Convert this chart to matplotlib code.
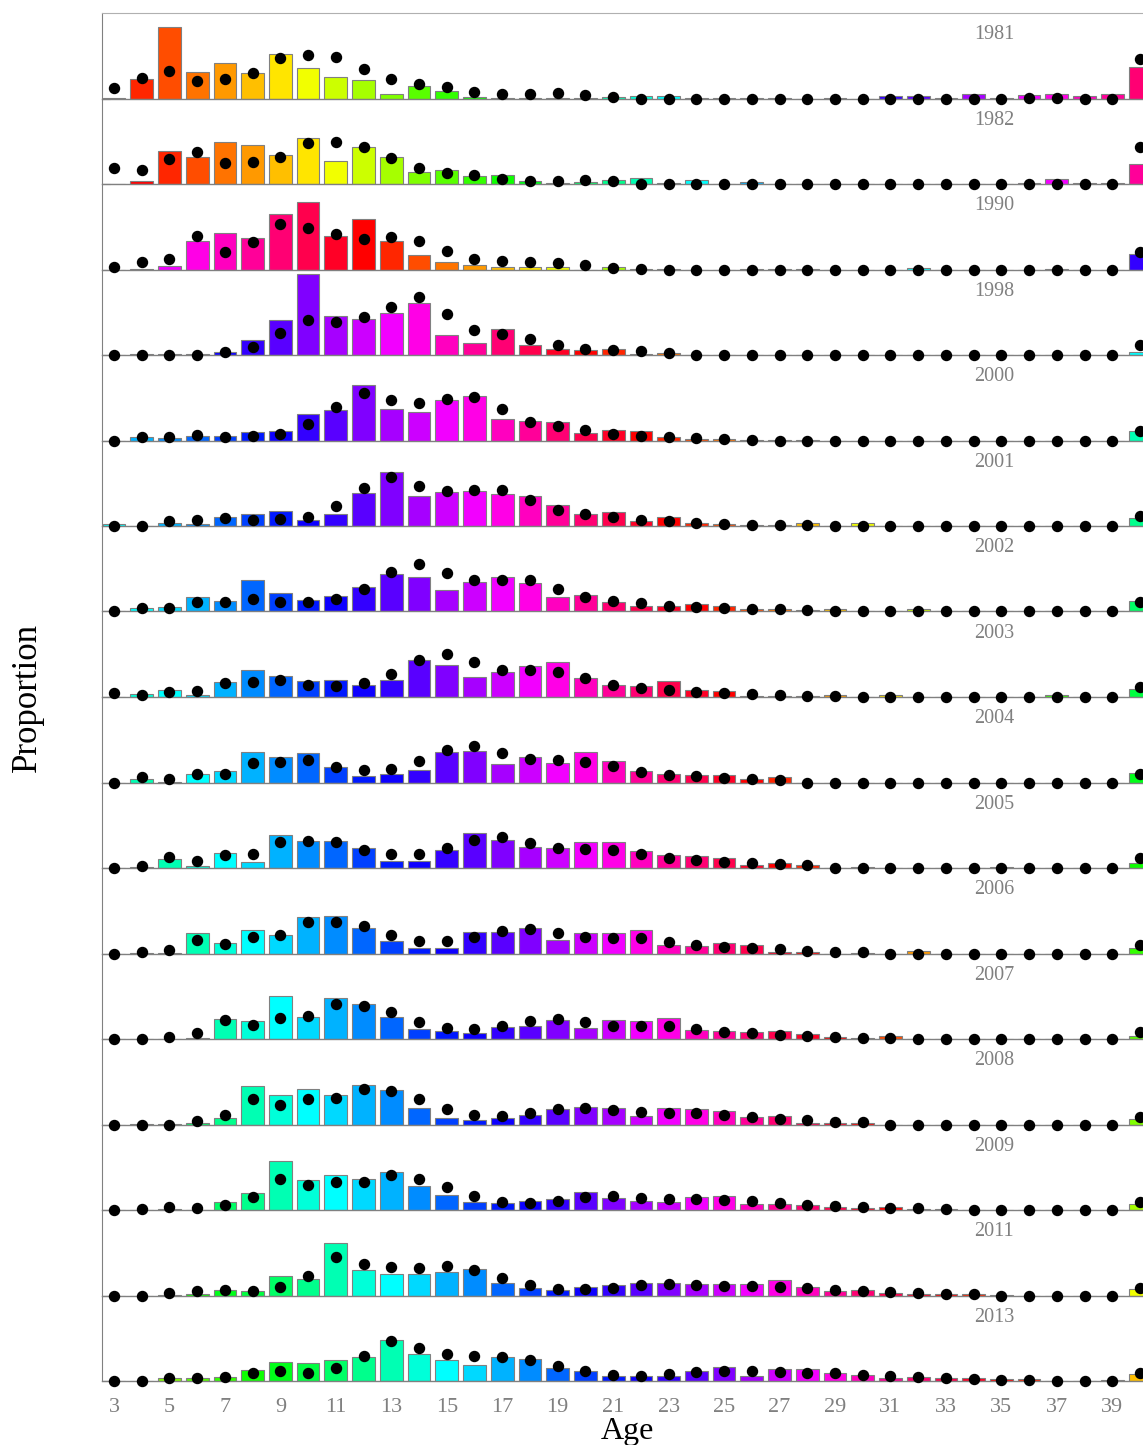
import colorsys

import matplotlib
matplotlib.use("Agg")
import matplotlib.pyplot as plt

plt.rcParams["font.family"] = ["Liberation Serif", "DejaVu Serif"]

# ------------------------------------------------------------
# data: observed proportion-at-age (bars) and fitted values (dots)
# ages 3..40 (40 = plus group); each list: ages 3-22, then 23-40
# ------------------------------------------------------------
ages = list(range(3, 41))
years = [1981, 1982, 1990, 1998, 2000, 2001, 2002, 2003,
         2004, 2005, 2006, 2007, 2008, 2009, 2011, 2013]

obs_1981 = [0.002, 0.059, 0.216, 0.081, 0.106, 0.076, 0.134, 0.092, 0.064, 0.055,
            0.015, 0.039, 0.022, 0.006, 0.001, 0.003, 0.002, 0.002, 0.006, 0.009,
            0.009, 0.003, 0.002, 0.002, 0.002, 0.0, 0.002, 0.0, 0.007,
            0.007, 0.002, 0.013, 0.002, 0.011, 0.013, 0.007, 0.015, 0.095]
fit_1981 = [0.032, 0.062, 0.082, 0.053, 0.058, 0.076, 0.122, 0.132, 0.126, 0.089,
            0.058, 0.045, 0.035, 0.021, 0.013, 0.015, 0.017, 0.012, 0.004, 0.0,
            0.0, 0.0, 0.0, 0.0, 0.0, 0.0, 0.0, 0.0, 0.0,
            0.0, 0.0, 0.0, 0.0, 0.002, 0.002, 0.0, 0.0, 0.118]

obs_1982 = [0.0, 0.008, 0.099, 0.080, 0.126, 0.116, 0.088, 0.139, 0.068, 0.111,
            0.082, 0.036, 0.043, 0.024, 0.028, 0.009, 0.002, 0.005, 0.013, 0.017,
            0.003, 0.012, 0.0, 0.005, 0.001, 0.001, 0.001, 0.001, 0.001,
            0.001, 0.001, 0.001, 0.001, 0.002, 0.015, 0.002, 0.002, 0.059]
fit_1982 = [0.048, 0.041, 0.075, 0.096, 0.064, 0.066, 0.082, 0.122, 0.126, 0.112,
            0.078, 0.047, 0.034, 0.026, 0.015, 0.009, 0.010, 0.011, 0.008, 0.001,
            0.0, 0.0, 0.0, 0.0, 0.0, 0.0, 0.0, 0.0, 0.0,
            0.0, 0.0, 0.0, 0.0, 0.0, 0.0, 0.0, 0.0, 0.110]

obs_1990 = [0.0, 0.003, 0.010, 0.086, 0.109, 0.096, 0.167, 0.204, 0.100, 0.152,
            0.086, 0.044, 0.023, 0.014, 0.008, 0.007, 0.007, 0.0, 0.007, 0.003,
            0.002, 0.0, 0.0, 0.002, 0.002, 0.002, 0.0, 0.0, 0.0,
            0.004, 0.0, 0.0, 0.0, 0.0, 0.003, 0.0, 0.0, 0.046]
fit_1990 = [0.008, 0.022, 0.031, 0.100, 0.054, 0.082, 0.136, 0.125, 0.108, 0.093,
            0.097, 0.086, 0.055, 0.032, 0.025, 0.022, 0.019, 0.013, 0.006, 0.003,
            0.0, 0.0, 0.0, 0.0, 0.0, 0.0, 0.0, 0.0, 0.0,
            0.0, 0.0, 0.0, 0.0, 0.0, 0.0, 0.0, 0.0, 0.052]

obs_1998 = [0.0, 0.002, 0.002, 0.002, 0.008, 0.046, 0.106, 0.243, 0.118, 0.109,
            0.125, 0.156, 0.061, 0.035, 0.077, 0.031, 0.017, 0.015, 0.018, 0.004,
            0.007, 0.0, 0.0, 0.0, 0.0, 0.0, 0.0, 0.0, 0.0,
            0.0, 0.0, 0.0, 0.0, 0.0, 0.0, 0.0, 0.0, 0.009]
fit_1998 = [0.0, 0.0, 0.0, 0.0, 0.009, 0.025, 0.066, 0.106, 0.098, 0.114,
            0.143, 0.175, 0.123, 0.074, 0.063, 0.048, 0.029, 0.018, 0.014, 0.011,
            0.006, 0.0, 0.0, 0.0, 0.0, 0.0, 0.0, 0.0, 0.0,
            0.0, 0.0, 0.0, 0.0, 0.0, 0.0, 0.0, 0.0, 0.030]

obs_2000 = [0.0, 0.011, 0.009, 0.014, 0.014, 0.027, 0.030, 0.080, 0.093, 0.167,
            0.094, 0.087, 0.123, 0.135, 0.065, 0.059, 0.055, 0.024, 0.033, 0.029,
            0.010, 0.006, 0.005, 0.002, 0.002, 0.003, 0.0, 0.0, 0.0,
            0.0, 0.0, 0.0, 0.0, 0.0, 0.0, 0.0, 0.0, 0.028]
fit_2000 = [0.0, 0.011, 0.011, 0.017, 0.011, 0.015, 0.021, 0.049, 0.102, 0.142,
            0.122, 0.114, 0.125, 0.132, 0.094, 0.056, 0.043, 0.032, 0.020, 0.014,
            0.011, 0.008, 0.005, 0.002, 0.0, 0.0, 0.0, 0.0, 0.0,
            0.0, 0.0, 0.0, 0.0, 0.0, 0.0, 0.0, 0.0, 0.028]

obs_2001 = [0.006, 0.001, 0.009, 0.006, 0.028, 0.036, 0.046, 0.019, 0.037, 0.099,
            0.162, 0.090, 0.101, 0.104, 0.095, 0.091, 0.063, 0.035, 0.043, 0.015,
            0.026, 0.010, 0.006, 0.002, 0.002, 0.008, 0.0, 0.008, 0.0,
            0.0, 0.0, 0.0, 0.0, 0.0, 0.0, 0.0, 0.0, 0.024]
fit_2001 = [0.0, 0.0, 0.016, 0.017, 0.024, 0.019, 0.021, 0.028, 0.059, 0.114,
            0.146, 0.121, 0.105, 0.109, 0.109, 0.079, 0.047, 0.035, 0.026, 0.018,
            0.014, 0.010, 0.007, 0.002, 0.002, 0.003, 0.0, 0.0, 0.0,
            0.0, 0.0, 0.0, 0.0, 0.0, 0.0, 0.0, 0.0, 0.030]

obs_2002 = [0.0, 0.009, 0.012, 0.042, 0.030, 0.093, 0.055, 0.034, 0.046, 0.073,
            0.111, 0.103, 0.065, 0.088, 0.103, 0.085, 0.043, 0.050, 0.027, 0.015,
            0.017, 0.021, 0.015, 0.006, 0.007, 0.004, 0.007, 0.0, 0.002,
            0.007, 0.001, 0.001, 0.001, 0.001, 0.001, 0.001, 0.001, 0.030]
fit_2002 = [0.0, 0.010, 0.010, 0.028, 0.028, 0.038, 0.027, 0.027, 0.036, 0.067,
            0.118, 0.143, 0.116, 0.095, 0.095, 0.093, 0.068, 0.042, 0.031, 0.024,
            0.017, 0.013, 0.011, 0.007, 0.006, 0.004, 0.002, 0.0, 0.0,
            0.0, 0.0, 0.0, 0.0, 0.0, 0.0, 0.0, 0.0, 0.029]

obs_2003 = [0.0, 0.010, 0.020, 0.005, 0.044, 0.081, 0.064, 0.048, 0.051, 0.036,
            0.050, 0.112, 0.096, 0.059, 0.074, 0.093, 0.104, 0.058, 0.036, 0.033,
            0.048, 0.020, 0.017, 0.003, 0.002, 0.002, 0.006, 0.0, 0.005,
            0.0, 0.0, 0.0, 0.0, 0.0, 0.006, 0.0, 0.0, 0.023]
fit_2003 = [0.011, 0.007, 0.016, 0.017, 0.042, 0.045, 0.052, 0.037, 0.033, 0.041,
            0.070, 0.112, 0.130, 0.105, 0.082, 0.080, 0.076, 0.057, 0.037, 0.027,
            0.022, 0.016, 0.013, 0.009, 0.006, 0.004, 0.003, 0.0, 0.0,
            0.0, 0.0, 0.0, 0.0, 0.0, 0.0, 0.0, 0.0, 0.029]

obs_2004 = [0.0, 0.011, 0.002, 0.025, 0.034, 0.093, 0.078, 0.088, 0.047, 0.019,
            0.027, 0.037, 0.093, 0.094, 0.055, 0.078, 0.059, 0.091, 0.064, 0.034,
            0.025, 0.024, 0.023, 0.012, 0.018, 0.0, 0.0, 0.0, 0.0,
            0.0, 0.0, 0.0, 0.0, 0.0, 0.0, 0.0, 0.0, 0.030]
fit_2004 = [0.0, 0.018, 0.011, 0.025, 0.027, 0.060, 0.063, 0.067, 0.047, 0.037,
            0.042, 0.064, 0.099, 0.110, 0.089, 0.072, 0.067, 0.063, 0.049, 0.032,
            0.024, 0.019, 0.014, 0.010, 0.008, 0.0, 0.0, 0.0, 0.0,
            0.0, 0.0, 0.0, 0.0, 0.0, 0.0, 0.0, 0.0, 0.027]

obs_2005 = [0.0, 0.004, 0.026, 0.007, 0.046, 0.017, 0.100, 0.080, 0.080, 0.061,
            0.020, 0.021, 0.054, 0.106, 0.084, 0.064, 0.061, 0.078, 0.078, 0.051,
            0.038, 0.037, 0.031, 0.009, 0.016, 0.010, 0.0, 0.002, 0.0,
            0.0, 0.0, 0.0, 0.003, 0.0, 0.0, 0.0, 0.0, 0.015]
fit_2005 = [0.0, 0.007, 0.032, 0.020, 0.038, 0.042, 0.079, 0.080, 0.079, 0.053,
            0.041, 0.042, 0.060, 0.085, 0.093, 0.076, 0.060, 0.057, 0.055, 0.043,
            0.031, 0.025, 0.019, 0.016, 0.012, 0.009, 0.0, 0.0, 0.0,
            0.0, 0.0, 0.0, 0.0, 0.0, 0.0, 0.0, 0.0, 0.029]

obs_2006 = [0.0, 0.001, 0.003, 0.062, 0.032, 0.070, 0.055, 0.111, 0.113, 0.077,
            0.038, 0.017, 0.016, 0.066, 0.064, 0.078, 0.042, 0.063, 0.063, 0.071,
            0.026, 0.022, 0.031, 0.025, 0.005, 0.004, 0.0, 0.003, 0.0,
            0.007, 0.0, 0.0, 0.0, 0.0, 0.0, 0.0, 0.0, 0.018]
fit_2006 = [0.0, 0.006, 0.012, 0.042, 0.029, 0.051, 0.056, 0.094, 0.094, 0.083,
            0.055, 0.038, 0.037, 0.050, 0.069, 0.075, 0.062, 0.050, 0.047, 0.046,
            0.036, 0.026, 0.019, 0.016, 0.013, 0.009, 0.006, 0.004, 0.0,
            0.0, 0.0, 0.0, 0.0, 0.0, 0.0, 0.0, 0.0, 0.026]

obs_2007 = [0.0, 0.0, 0.0, 0.002, 0.060, 0.054, 0.129, 0.067, 0.123, 0.106,
            0.066, 0.029, 0.025, 0.017, 0.035, 0.038, 0.057, 0.033, 0.056, 0.053,
            0.062, 0.026, 0.023, 0.020, 0.023, 0.016, 0.005, 0.004, 0.008,
            0.0, 0.0, 0.0, 0.0, 0.0, 0.0, 0.0, 0.0, 0.010]
fit_2007 = [0.0, 0.0, 0.006, 0.017, 0.057, 0.042, 0.062, 0.069, 0.104, 0.098,
            0.082, 0.051, 0.032, 0.030, 0.040, 0.055, 0.059, 0.051, 0.040, 0.039,
            0.038, 0.031, 0.021, 0.017, 0.013, 0.010, 0.006, 0.004, 0.003,
            0.0, 0.0, 0.0, 0.0, 0.0, 0.0, 0.0, 0.0, 0.021]

obs_2008 = [0.0, 0.001, 0.001, 0.004, 0.021, 0.116, 0.090, 0.106, 0.090, 0.120,
            0.105, 0.051, 0.021, 0.013, 0.020, 0.028, 0.047, 0.054, 0.049, 0.026,
            0.049, 0.048, 0.041, 0.023, 0.025, 0.006, 0.004, 0.005, 0.0,
            0.0, 0.0, 0.0, 0.0, 0.0, 0.0, 0.0, 0.0, 0.017]
fit_2008 = [0.0, 0.0, 0.0, 0.010, 0.029, 0.077, 0.060, 0.076, 0.080, 0.107,
            0.100, 0.077, 0.048, 0.029, 0.026, 0.036, 0.046, 0.050, 0.044, 0.037,
            0.036, 0.035, 0.029, 0.022, 0.017, 0.013, 0.009, 0.007, 0.0,
            0.0, 0.0, 0.0, 0.0, 0.0, 0.0, 0.0, 0.0, 0.024]

obs_2009 = [0.0, 0.001, 0.002, 0.001, 0.023, 0.051, 0.147, 0.090, 0.104, 0.092,
            0.115, 0.073, 0.046, 0.025, 0.020, 0.027, 0.032, 0.054, 0.037, 0.028,
            0.025, 0.039, 0.042, 0.019, 0.017, 0.015, 0.009, 0.007, 0.008,
            0.002, 0.003, 0.0, 0.0, 0.0, 0.0, 0.0, 0.0, 0.017]
fit_2009 = [0.0, 0.004, 0.008, 0.006, 0.014, 0.039, 0.093, 0.076, 0.083, 0.085,
            0.105, 0.094, 0.069, 0.042, 0.025, 0.022, 0.028, 0.040, 0.042, 0.037,
            0.033, 0.033, 0.031, 0.026, 0.020, 0.015, 0.011, 0.009, 0.006,
            0.005, 0.002, 0.0, 0.0, 0.0, 0.0, 0.0, 0.0, 0.024]

obs_2011 = [0.0, 0.0, 0.003, 0.006, 0.016, 0.014, 0.060, 0.049, 0.158, 0.077,
            0.065, 0.066, 0.070, 0.080, 0.037, 0.023, 0.017, 0.026, 0.031, 0.039,
            0.037, 0.036, 0.034, 0.035, 0.046, 0.026, 0.013, 0.018, 0.008,
            0.005, 0.004, 0.004, 0.002, 0.0, 0.0, 0.0, 0.0, 0.021]
fit_2011 = [0.0, 0.0, 0.008, 0.013, 0.018, 0.014, 0.027, 0.060, 0.115, 0.094,
            0.087, 0.084, 0.088, 0.077, 0.054, 0.033, 0.020, 0.020, 0.023, 0.031,
            0.035, 0.032, 0.030, 0.029, 0.027, 0.022, 0.018, 0.013, 0.010,
            0.007, 0.005, 0.004, 0.0, 0.0, 0.0, 0.0, 0.0, 0.024]

obs_2013 = [0.0, 0.0, 0.010, 0.008, 0.013, 0.034, 0.058, 0.053, 0.062, 0.071,
            0.122, 0.082, 0.064, 0.049, 0.071, 0.066, 0.039, 0.030, 0.014, 0.014,
            0.016, 0.029, 0.041, 0.016, 0.035, 0.035, 0.025, 0.019, 0.008,
            0.013, 0.009, 0.009, 0.005, 0.007, 0.0, 0.0, 0.002, 0.022]
fit_2013 = [0.0, 0.0, 0.008, 0.008, 0.012, 0.025, 0.030, 0.025, 0.038, 0.074,
            0.119, 0.100, 0.082, 0.075, 0.073, 0.064, 0.045, 0.029, 0.017, 0.016,
            0.022, 0.027, 0.031, 0.029, 0.027, 0.025, 0.023, 0.019, 0.015,
            0.011, 0.008, 0.006, 0.004, 0.003, 0.0, 0.0, 0.0, 0.024]

observed = [obs_1981, obs_1982, obs_1990, obs_1998, obs_2000, obs_2001, obs_2002, obs_2003,
            obs_2004, obs_2005, obs_2006, obs_2007, obs_2008, obs_2009, obs_2011, obs_2013]
fitted = [fit_1981, fit_1982, fit_1990, fit_1998, fit_2000, fit_2001, fit_2002, fit_2003,
          fit_2004, fit_2005, fit_2006, fit_2007, fit_2008, fit_2009, fit_2011, fit_2013]


def cohort_colour(cohort):
    """Rainbow colour cycling every 40 year-classes (1978 = red)."""
    hue = ((1978 - cohort) % 40) / 40.0
    return colorsys.hsv_to_rgb(hue, 1.0, 1.0)


# ------------------------------------------------------------
# layout (pixels of a 1143 x 1445 canvas)
# ------------------------------------------------------------
W, H = 1143, 1445
LEFT, RIGHT, TOP = 102, 1143, 13
PANEL_H = 85.5
GREY = "#808080"

fig = plt.figure(figsize=(W / 100, H / 100), dpi=100)

for i, (year, obs, fit) in enumerate(zip(years, observed, fitted)):
    top = TOP + i * PANEL_H
    ax = fig.add_axes([LEFT / W, 1 - (top + PANEL_H) / H,
                       (RIGHT - LEFT) / W, PANEL_H / H])
    ax.patch.set_visible(False)

    colours = [cohort_colour(year - a) for a in ages]
    ax.bar(ages, obs, width=0.82, color=colours, edgecolor=GREY,
           linewidth=0.8, zorder=2)
    ax.plot(ages, fit, "o", color="black", markersize=7.2,
            clip_on=False, zorder=4)

    ax.set_xlim(2.567, 40.108)
    ax.set_ylim(0, 0.2565)

    for side in ("top", "right"):
        ax.spines[side].set_visible(False)
    ax.spines["left"].set_color(GREY)
    ax.spines["bottom"].set_color(GREY)
    ax.spines["bottom"].set_linewidth(1.0)
    if i == 0:
        ax.spines["top"].set_visible(True)
        ax.spines["top"].set_color("#b0b0b0")

    ax.set_yticks([0])
    ax.set_yticklabels([])
    ax.tick_params(axis="y", direction="in", length=6, color=GREY)

    ax.set_xticks(range(3, 40, 2))
    ax.tick_params(axis="x", length=0, pad=12, labelsize=16, labelcolor=GREY)
    if i < len(years) - 1:
        ax.set_xticklabels([])

    ax.text(34.75, 0.743, str(year), transform=ax.get_xaxis_transform(),
            ha="center", va="center", fontsize=14.5, color=GREY)

fig.text(627 / W, 1 - 1432 / H, "Age", ha="center", va="center", fontsize=23)
fig.text(27 / W, 1 - 697 / H, "Proportion", ha="center", va="center",
         rotation=90, fontsize=25)

fig.savefig("out.png", dpi=100)
